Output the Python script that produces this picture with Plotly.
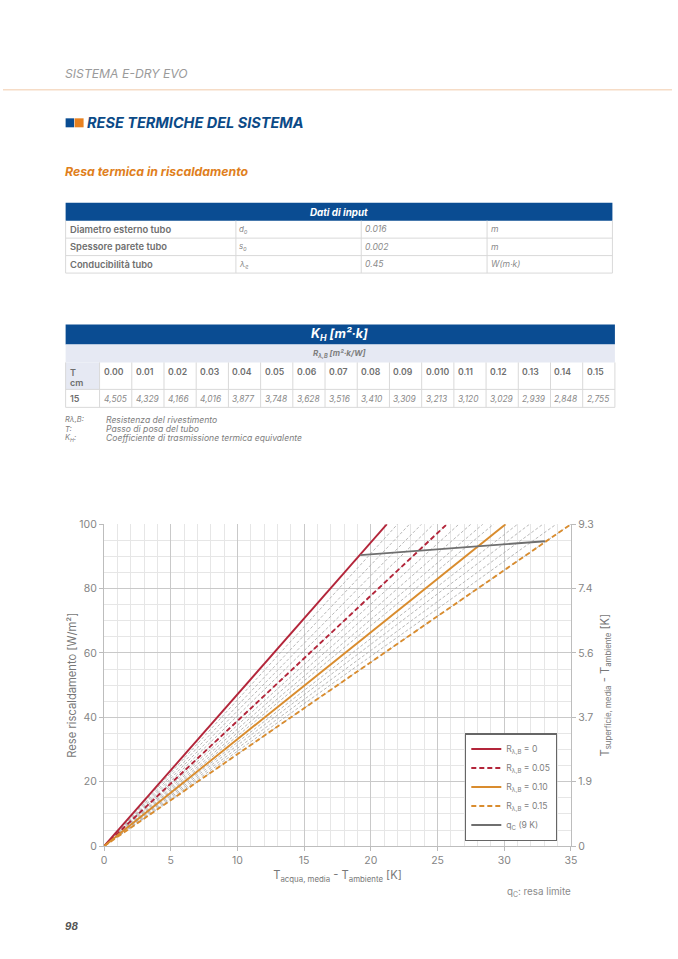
import plotly.graph_objects as go

# ---------- data ----------
input_labels = ["Diametro esterno tubo", "Spessore parete tubo", "Conducibilità tubo"]
input_symbols = ["d<sub>o</sub>", "s<sub>o</sub>", "λ<sub>e</sub>"]
input_values = ["0.016", "0.002", "0.45"]
input_units = ["m", "m", "W(m·k)"]
resistances = ["0.00", "0.01", "0.02", "0.03", "0.04", "0.05", "0.06", "0.07",
               "0.08", "0.09", "0.010", "0.11", "0.12", "0.13", "0.14", "0.15"]
kh_values = ["4,505", "4,329", "4,166", "4,016", "3,877", "3,748", "3,628", "3,516",
             "3,410", "3,309", "3,213", "3,120", "3,029", "2,939", "2,848", "2,755"]
notes_left = ["Rλ,B:", "T:", "K<sub>H</sub>:"]
notes_right = ["Resistenza del rivestimento", "Passo di posa del tubo",
               "Coefficiente di trasmissione termica equivalente"]

# temperature difference at which each curve reaches 100 W/m2
line_start = [0, 0]
line_top = [0, 100]
x_at_100_main = [21.2, 25.7, 30.1, 35.0]
x_at_100_fine = [22.0, 22.9, 23.8, 24.7, 26.6, 27.5, 28.4, 29.2, 31.0, 31.9, 32.9, 33.9]
main_names = ["R<sub>λ,B</sub> = 0", "R<sub>λ,B</sub> = 0.05",
              "R<sub>λ,B</sub> = 0.10", "R<sub>λ,B</sub> = 0.15"]
limit_x = [19.2, 33.05]
limit_y = [90.4, 94.7]
x_ticks = [0, 5, 10, 15, 20, 25, 30, 35]
y_ticks = [0, 20, 40, 60, 80, 100]
right_labels = ["0", "1.9", "3.7", "5.6", "7.4", "9.3"]

# ---------- style ----------
W, H = 678, 959
S, DX, DY = 0.988, 2.3, 5.0   # observed mapping of page pixels to the returned picture
FONT = "Inter"
BLUE = "#0a4c92"
RED = "#b3253a"
ORANGE = "#d98c2e"
GREY_T = "#7d7d7d"
CELL = "#d9d9d9"

def X(p): return ((p - DX) / S) / W
def Y(p): return 1 - ((p - DY) / S) / H

shapes, annos = [], []

def rect(x0, y0, x1, y1, fill=None, line=None, lw=1, radius=False):
    shapes.append(dict(type="rect", xref="paper", yref="paper", x0=X(x0), x1=X(x1), y0=Y(y1), y1=Y(y0),
                       fillcolor=fill or "rgba(0,0,0,0)",
                       line=dict(color=line or "rgba(0,0,0,0)", width=lw if line else 0)))

def hline(x0, x1, y, color, lw=1):
    shapes.append(dict(type="line", xref="paper", yref="paper", x0=X(x0), x1=X(x1), y0=Y(y), y1=Y(y),
                       line=dict(color=color, width=lw)))

def vline(x, y0, y1, color, lw=1):
    shapes.append(dict(type="line", xref="paper", yref="paper", x0=X(x), x1=X(x), y0=Y(y0), y1=Y(y1),
                       line=dict(color=color, width=lw)))

def text(x, y, s, size=8, color=GREY_T, bold=False, italic=False, anchor="left", weight=None):
    annos.append(dict(xref="paper", yref="paper", x=X(x), y=Y(y), text=s, showarrow=False,
                      xanchor=anchor, yanchor="middle", align=anchor, borderpad=0, borderwidth=0,
                      font=dict(family=FONT, size=size, color=color,
                                weight=weight or (700 if bold else 400),
                                style="italic" if italic else "normal")))

# page header
text(64, 72.5, "SISTEMA E-DRY EVO", 12.2, "#9a9a9a", italic=True)
shapes.append(dict(type="line", xref="paper", yref="paper", x0=0, x1=1, y0=Y(89), y1=Y(89),
                   line=dict(color="#f6dcc6", width=1.5)))
rect(65, 117.5, 73.5, 126.5, BLUE)
rect(74, 117.5, 83, 126.5, "#e8811f")
text(86, 122, "RESE TERMICHE DEL SISTEMA", 14.5, "#0b4a87", bold=True, italic=True)
text(64, 171, "Resa termica in riscaldamento", 12.3, "#e07f1d", bold=True, italic=True)

# input table
rect(65, 202, 612.5, 220, BLUE)
text(339, 212, "Dati di input", 9.8, "white", bold=True, italic=True, anchor="center")
t1_cols = [65, 235.5, 361, 487, 612.5]
t1_rows = [220, 237.5, 255, 272.5]
for r in t1_rows[1:]:
    hline(65, 612.5, r, CELL)
for c in t1_cols:
    vline(c, 220, 272.5, CELL)
for i in range(3):
    yc = (t1_rows[i] + t1_rows[i + 1]) / 2
    text(69, yc, input_labels[i], 9.4, "#6f6f6f", weight=600)
    text(239, yc, input_symbols[i], 8, "#8a8a8a", italic=True)
    text(365, yc, input_values[i], 8.6, "#8a8a8a", italic=True)
    text(491, yc, input_units[i], 8.6, "#8a8a8a", italic=True)

# K_H table
rect(65, 324, 615, 344, BLUE)
text(339, 334, "K<sub>H</sub> [m²·k]", 12.5, "white", bold=True, italic=True, anchor="center")
rect(65, 344, 615, 362, "#e6e9f3")
text(339, 353, "R<sub>λ,B</sub> [m²·k/W]", 8, "#7d7d7d", bold=True, italic=True, anchor="center")
rect(65, 362, 99, 389, "#e6e9f3")
col_w = (615 - 99) / 16
hline(65, 615, 389, CELL)
hline(65, 615, 407, CELL)
vline(65, 362, 407, CELL)
vline(99, 362, 407, CELL)
text(69, 372, "T", 9, "#6f6f6f", weight=600)
text(69, 382, "cm", 9, "#6f6f6f", weight=600)
text(69, 398, "15", 9, "#6f6f6f", weight=600)
for i in range(16):
    x0 = 99 + i * col_w
    vline(x0 + col_w, 362, 407, CELL)
    text(x0 + 4, 372, resistances[i], 8.7, "#6f6f6f", weight=600)
    text(x0 + 4, 399, kh_values[i], 8.4, "#8a8a8a", italic=True)

for i in range(3):
    yc = 419.5 + i * 9.2
    text(64, yc, notes_left[i], 7.5, "#7d7d7d", italic=True)
    text(105, yc, notes_right[i], 8.6, "#7d7d7d", italic=True)

text(571, 893, "q<sub>C</sub>: resa limite", 9.8, "#8a8a8a", anchor="right")
text(64, 926, "98", 10, "#555555", bold=True, italic=True)

# ---------- chart ----------
fig = go.Figure()
for xe in x_at_100_fine + x_at_100_main:
    fig.add_trace(go.Scatter(x=[line_start[0], xe], y=[line_start[1], line_top[1]], mode="lines",
                             line=dict(color="#b0b0b0", width=0.9, dash="3px,2px"),
                             showlegend=False, hoverinfo="skip"))
main_styles = [(RED, "solid"), (RED, "5px,3px"), (ORANGE, "solid"), (ORANGE, "5px,3px")]
for xe, nm, (col, ds) in zip(x_at_100_main, main_names, main_styles):
    fig.add_trace(go.Scatter(x=[line_start[0], xe], y=[line_start[1], line_top[1]], mode="lines", name=nm,
                             line=dict(color=col, width=1.9, dash=ds)))
fig.add_trace(go.Scatter(x=limit_x, y=limit_y, mode="lines", name="q<sub>C</sub> (9 K)",
                         line=dict(color="#6f6f6f", width=1.9)))
fig.add_trace(go.Scatter(x=[0, 35], y=[0, 100], yaxis="y2", mode="lines", opacity=0,
                         showlegend=False, hoverinfo="skip"))

tick_font = dict(family=FONT, size=10.5, color="#858585")
title_font = dict(family=FONT, size=11.2, color="#777777")
fig.update_layout(
    width=W, height=H, margin=dict(l=0, r=0, t=0, b=0),
    paper_bgcolor="white", plot_bgcolor="white",
    shapes=shapes, annotations=annos,
    xaxis=dict(domain=[X(103.5), X(571)], range=[0, 35], tickvals=x_ticks, ticks="outside", ticklen=4,
               tickcolor="#bbbbbb", tickfont=tick_font, showgrid=True, gridcolor="#c9c9c9", gridwidth=1.3,
               zeroline=False, showline=True, linecolor="#bdbdbd", linewidth=1.2, mirror=False,
               minor=dict(dtick=1, showgrid=True, gridcolor="#e6e6e6", gridwidth=1),
               title=dict(text="T<sub>acqua, media</sub> - T<sub>ambiente</sub> [K]", font=title_font, standoff=5)),
    yaxis=dict(domain=[Y(846.5), Y(524)], range=[0, 100], tickvals=y_ticks, ticks="outside", ticklen=4,
               tickcolor="#bbbbbb", tickfont=tick_font, showgrid=True, gridcolor="#c9c9c9", gridwidth=1.3,
               zeroline=False, showline=True, linecolor="#bdbdbd", linewidth=1.2,
               minor=dict(dtick=5, showgrid=True, gridcolor="#e6e6e6", gridwidth=1),
               title=dict(text="Rese riscaldamento [W/m²]", font=title_font, standoff=0)),
    yaxis2=dict(domain=[Y(846.5), Y(524)], range=[0, 100], overlaying="y", side="right", anchor="x",
                tickvals=y_ticks, ticktext=right_labels, ticks="outside", ticklen=4, tickcolor="#bbbbbb",
                tickfont=tick_font, showgrid=False, zeroline=False, showline=True,
                linecolor="#bdbdbd", linewidth=1.2,
                title=dict(text="T<sub>superficie, media</sub> - T<sub>ambiente</sub> [K]",
                           font=title_font, standoff=8)),
    legend=dict(x=X(465), y=Y(733.5), xanchor="left", yanchor="top", bgcolor="white",
                bordercolor="#666666", borderwidth=1.2, itemwidth=30,
                font=dict(family=FONT, size=8.6, color="#808080"), traceorder="normal"),
    showlegend=True,
)

fig.write_html("out.html", config=dict(displayModeBar=False),
               post_script="document.body.style.margin='0';")
